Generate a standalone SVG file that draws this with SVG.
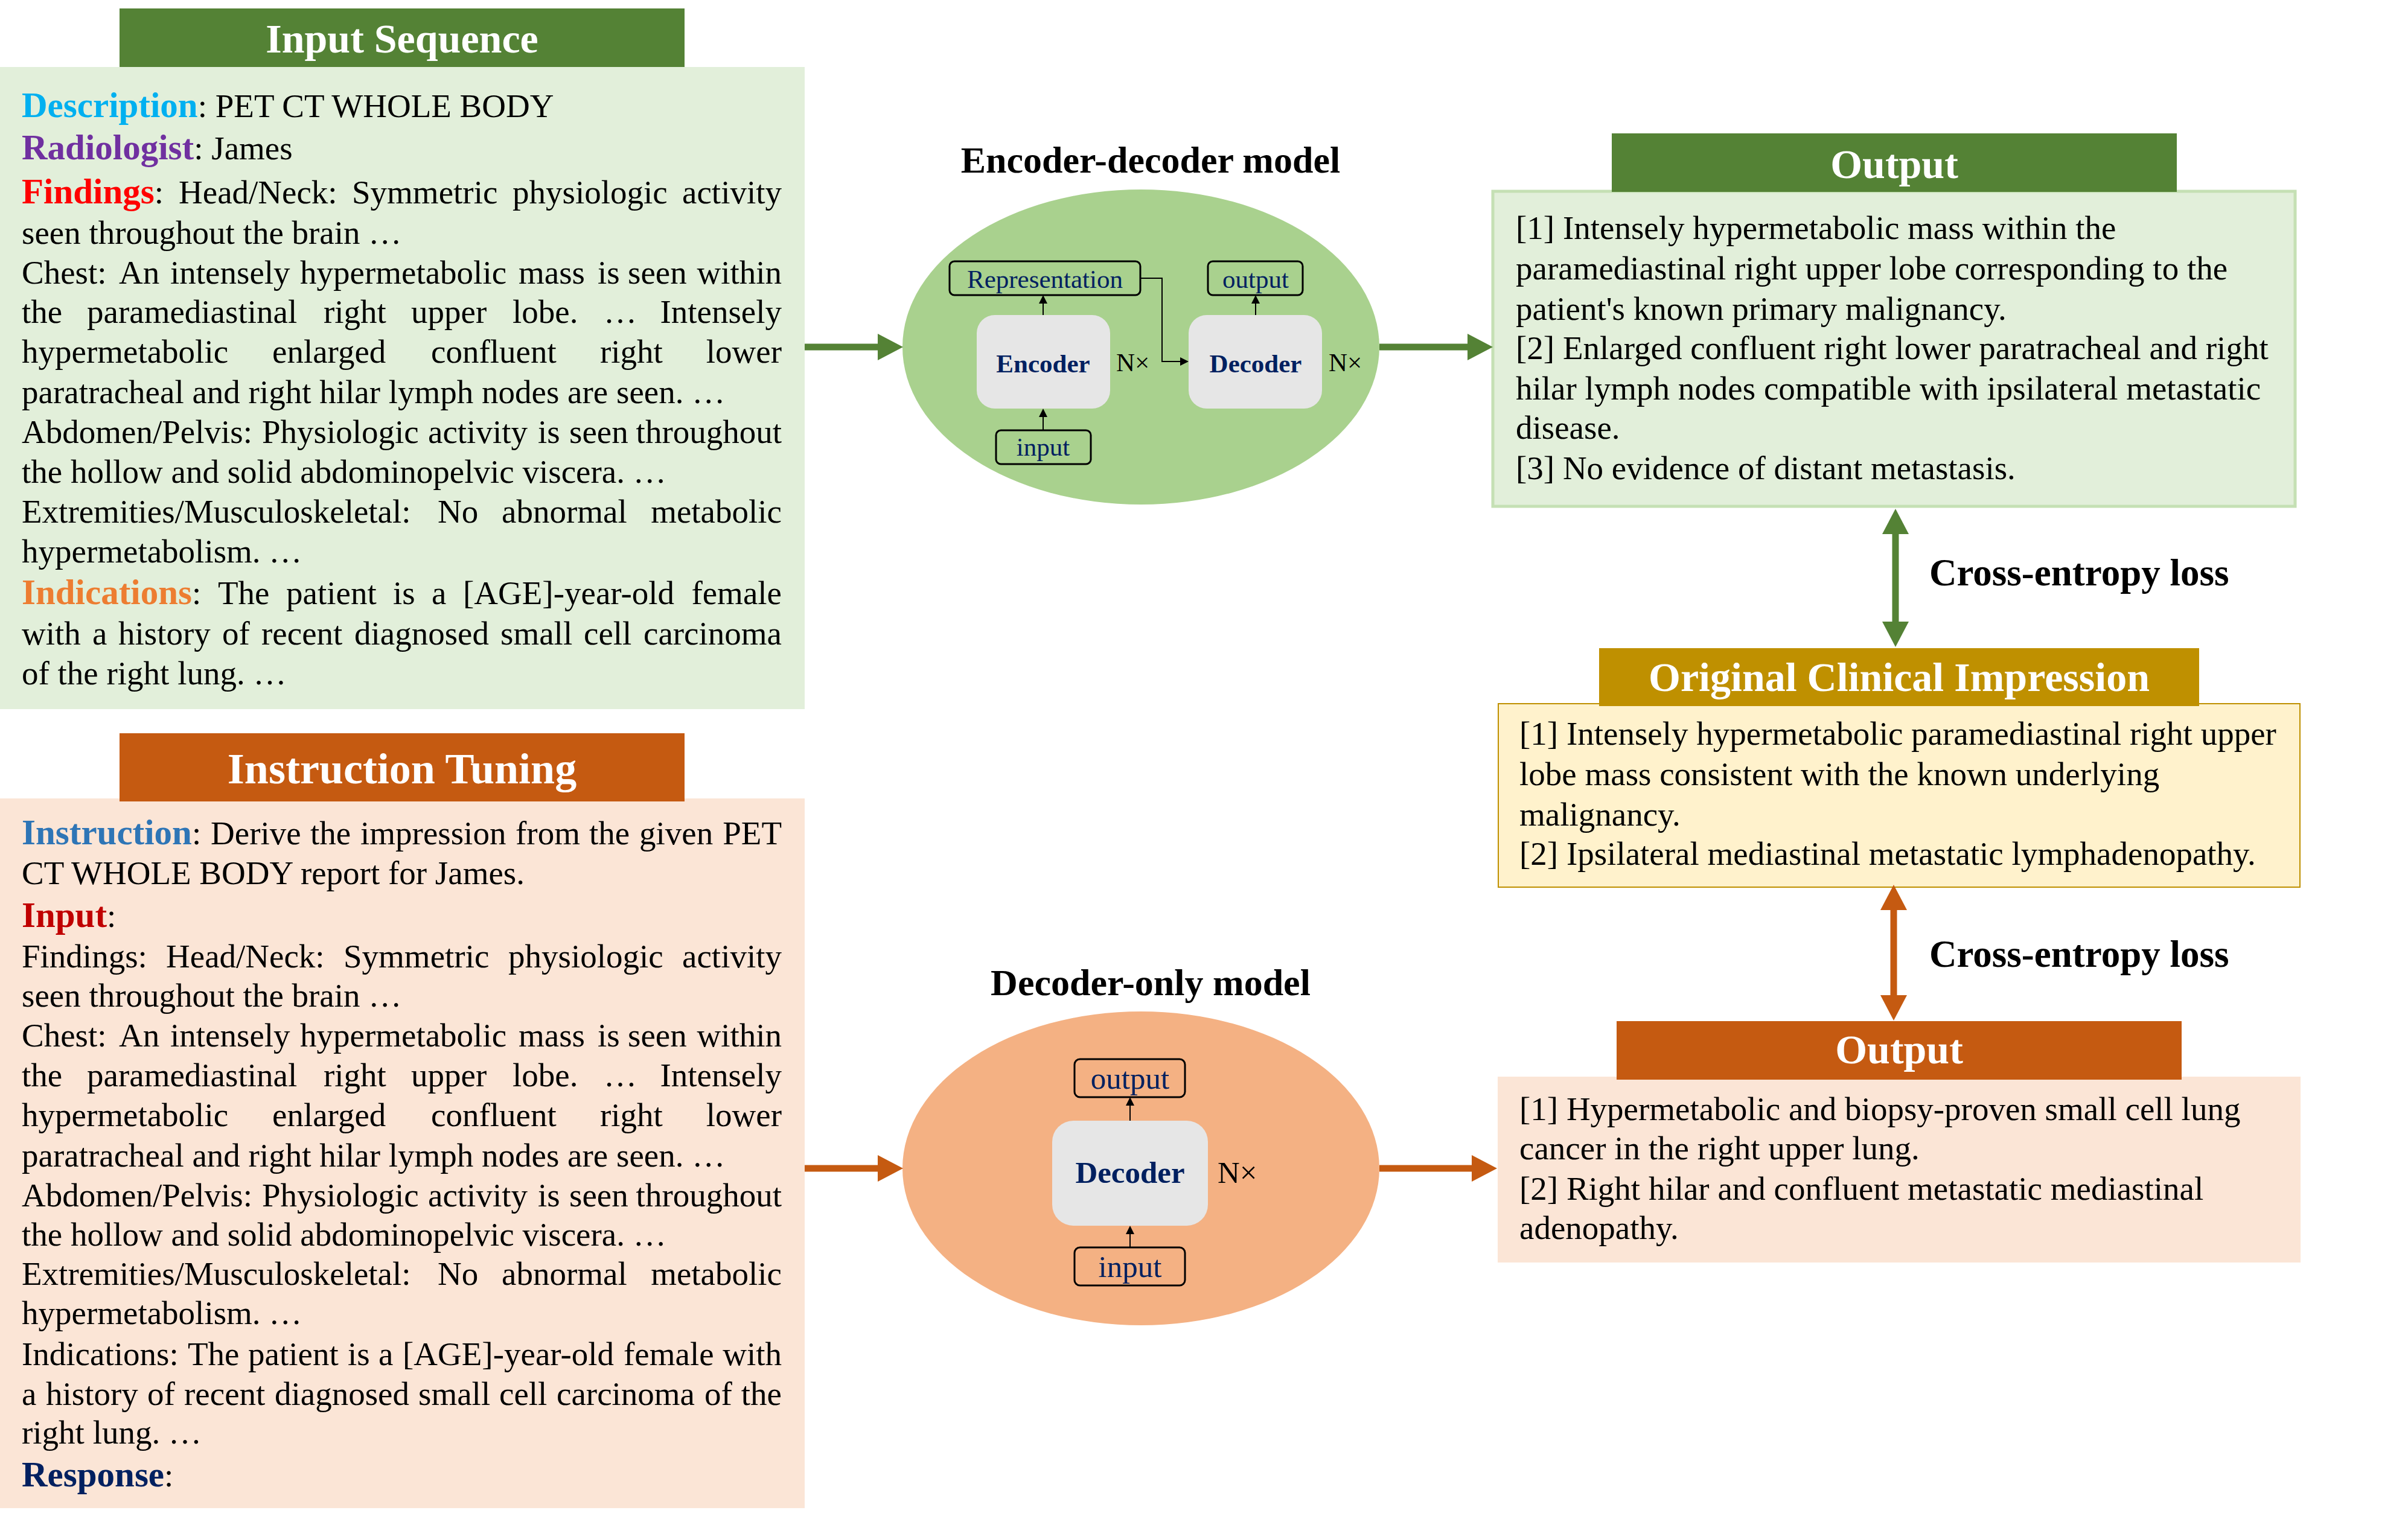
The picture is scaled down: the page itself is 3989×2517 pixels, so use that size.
<svg xmlns="http://www.w3.org/2000/svg" width="3989" height="2517" viewBox="0 0 3989 2517">
<style>
.t{font-family:"Liberation Serif","Times New Roman",serif;font-size:55px;fill:#000}
.b{font-weight:bold}
.k{font-weight:bold;font-size:59px}
.hd{font-family:"Liberation Serif","Times New Roman",serif;font-weight:bold;font-size:68px;fill:#fff;text-anchor:middle}
.ti{font-family:"Liberation Serif","Times New Roman",serif;font-weight:bold;font-size:62px;fill:#000}
.lb{font-family:"Liberation Serif","Times New Roman",serif;fill:#002060;text-anchor:middle}
.nx{font-family:"Liberation Serif","Times New Roman",serif;fill:#000}
.sb{fill:none;stroke:#000;stroke-width:3}
.blk{fill:#e6e6e6}
.e{text-anchor:end}
</style>
<defs>
<marker id="ag" markerUnits="userSpaceOnUse" markerWidth="42" markerHeight="44" refX="0" refY="22" orient="auto-start-reverse" viewBox="0 0 42 44"><path d="M0,0 L42,22 L0,44 z" fill="#548235"/></marker>
<marker id="ao" markerUnits="userSpaceOnUse" markerWidth="42" markerHeight="44" refX="0" refY="22" orient="auto-start-reverse" viewBox="0 0 42 44"><path d="M0,0 L42,22 L0,44 z" fill="#c55a11"/></marker>
<marker id="ak" markerUnits="userSpaceOnUse" markerWidth="14" markerHeight="14" refX="0" refY="7" orient="auto" viewBox="0 0 14 14"><path d="M0,0 L14,7 L0,14 z" fill="#000"/></marker>
</defs>
<rect width="3989" height="2517" fill="#fff"/>

<g id="input-sequence">
<rect x="0" y="111" width="1333" height="1064" fill="#e2efda"/>
<rect x="198" y="14" width="936" height="97" fill="#548235"/>
<text class="hd" x="666" y="87">Input Sequence</text>
<text class="t" y="194"><tspan x="36" class="k" fill="#00b0f0">Description</tspan>: PET CT WHOLE BODY</text>
<text class="t" y="264"><tspan x="36" class="k" fill="#7030a0">Radiologist</tspan>: James</text>
<text class="t" y="337"><tspan x="36" class="k" fill="#ff0000">Findings</tspan>:<tspan x="296">Head/Neck:</tspan><tspan x="583">Symmetric</tspan><tspan x="849">physiologic</tspan></text>
<text class="t e" x="1295" y="337">activity</text>
<text class="t" x="36" y="404">seen throughout the brain …</text>
<text class="t" y="470"><tspan x="36">Chest:</tspan><tspan x="197">An</tspan><tspan x="282">intensely</tspan><tspan x="497">hypermetabolic</tspan><tspan x="859">mass</tspan><tspan x="990">is</tspan><tspan x="1040">seen</tspan></text>
<text class="t e" x="1295" y="470">within</text>
<text class="t" y="535"><tspan x="36">the</tspan><tspan x="144">paramediastinal</tspan><tspan x="536">right</tspan><tspan x="681">upper</tspan><tspan x="849">lobe.</tspan><tspan x="1000">…</tspan></text>
<text class="t e" x="1295" y="535">Intensely</text>
<text class="t" y="601"><tspan x="36">hypermetabolic</tspan><tspan x="451">enlarged</tspan><tspan x="714">confluent</tspan><tspan x="994">right</tspan></text>
<text class="t e" x="1295" y="601">lower</text>
<text class="t" x="36" y="668">paratracheal and right hilar lymph nodes are seen. …</text>
<text class="t" y="734"><tspan x="36">Abdomen/Pelvis:</tspan><tspan x="434">Physiologic</tspan><tspan x="709">activity</tspan><tspan x="891">is</tspan><tspan x="943">seen</tspan></text>
<text class="t e" x="1295" y="734">throughout</text>
<text class="t" x="36" y="800">the hollow and solid abdominopelvic viscera. …</text>
<text class="t" y="866"><tspan x="36">Extremities/Musculoskeletal:</tspan><tspan x="725">No</tspan><tspan x="831">abnormal</tspan></text>
<text class="t e" x="1295" y="866">metabolic</text>
<text class="t" x="36" y="932">hypermetabolism. …</text>
<text class="t" y="1001"><tspan x="36" class="k" fill="#ed7d31">Indications</tspan>:<tspan x="361">The</tspan><tspan x="474">patient</tspan><tspan x="651">is</tspan><tspan x="715">a</tspan><tspan x="767">[AGE]-year-old</tspan></text>
<text class="t e" x="1295" y="1001">female</text>
<text class="t" y="1068"><tspan x="36">with</tspan><tspan x="153">a</tspan><tspan x="196">history</tspan><tspan x="368">of</tspan><tspan x="433">recent</tspan><tspan x="587">diagnosed</tspan><tspan x="829">small</tspan><tspan x="967">cell</tspan></text>
<text class="t e" x="1295" y="1068">carcinoma</text>
<text class="t" x="36" y="1134">of the right lung. …</text>
</g>

<g id="instruction-tuning">
<rect x="0" y="1323" width="1333" height="1176" fill="#fbe5d6"/>
<rect x="198" y="1215" width="936" height="113" fill="#c55a11"/>
<text class="hd" x="666" y="1298" style="font-size:72px">Instruction Tuning</text>
<text class="t" y="1399"><tspan x="36" class="k" fill="#2e75b6">Instruction</tspan>:<tspan x="349">Derive</tspan><tspan x="514">the</tspan><tspan x="597">impression</tspan><tspan x="854">from</tspan><tspan x="976">the</tspan><tspan x="1059">given</tspan></text>
<text class="t e" x="1295" y="1399">PET</text>
<text class="t" x="36" y="1465">CT WHOLE BODY report for James.</text>
<text class="t" y="1536"><tspan x="36" class="k" fill="#c00000">Input</tspan>:</text>
<text class="t" y="1603"><tspan x="36">Findings:</tspan><tspan x="275">Head/Neck:</tspan><tspan x="569">Symmetric</tspan><tspan x="842">physiologic</tspan></text>
<text class="t e" x="1295" y="1603">activity</text>
<text class="t" x="36" y="1668">seen throughout the brain …</text>
<text class="t" y="1734"><tspan x="36">Chest:</tspan><tspan x="197">An</tspan><tspan x="282">intensely</tspan><tspan x="497">hypermetabolic</tspan><tspan x="859">mass</tspan><tspan x="990">is</tspan><tspan x="1040">seen</tspan></text>
<text class="t e" x="1295" y="1734">within</text>
<text class="t" y="1800"><tspan x="36">the</tspan><tspan x="144">paramediastinal</tspan><tspan x="536">right</tspan><tspan x="681">upper</tspan><tspan x="849">lobe.</tspan><tspan x="1000">…</tspan></text>
<text class="t e" x="1295" y="1800">Intensely</text>
<text class="t" y="1866"><tspan x="36">hypermetabolic</tspan><tspan x="451">enlarged</tspan><tspan x="714">confluent</tspan><tspan x="994">right</tspan></text>
<text class="t e" x="1295" y="1866">lower</text>
<text class="t" x="36" y="1933">paratracheal and right hilar lymph nodes are seen. …</text>
<text class="t" y="1999"><tspan x="36">Abdomen/Pelvis:</tspan><tspan x="434">Physiologic</tspan><tspan x="709">activity</tspan><tspan x="891">is</tspan><tspan x="943">seen</tspan></text>
<text class="t e" x="1295" y="1999">throughout</text>
<text class="t" x="36" y="2064">the hollow and solid abdominopelvic viscera. …</text>
<text class="t" y="2129"><tspan x="36">Extremities/Musculoskeletal:</tspan><tspan x="725">No</tspan><tspan x="831">abnormal</tspan></text>
<text class="t e" x="1295" y="2129">metabolic</text>
<text class="t" x="36" y="2194">hypermetabolism. …</text>
<text class="t" y="2262"><tspan x="36">Indications:</tspan><tspan x="311">The</tspan><tspan x="411">patient</tspan><tspan x="576">is</tspan><tspan x="627">a</tspan><tspan x="667">[AGE]-year-old</tspan><tspan x="1033">female</tspan></text>
<text class="t e" x="1295" y="2262">with</text>
<text class="t" y="2328"><tspan x="36">a</tspan><tspan x="76">history</tspan><tspan x="244">of</tspan><tspan x="305">recent</tspan><tspan x="455">diagnosed</tspan><tspan x="693">small</tspan><tspan x="827">cell</tspan><tspan x="922">carcinoma</tspan><tspan x="1167">of</tspan></text>
<text class="t e" x="1295" y="2328">the</text>
<text class="t" x="36" y="2392">right lung. …</text>
<text class="t" y="2463"><tspan x="36" class="k" fill="#002060">Response</tspan>:</text>
</g>

<g id="encoder-decoder-model">
<text class="ti" x="1906" y="286" text-anchor="middle">Encoder-decoder model</text>
<ellipse cx="1890" cy="575" rx="395" ry="261" fill="#a9d18e"/>
<rect class="sb" x="1573" y="433" width="316" height="56" rx="8"/>
<text class="lb" x="1731" y="477" font-size="43">Representation</text>
<rect class="sb" x="2001" y="433" width="157" height="56" rx="8"/>
<text class="lb" x="2080" y="477" font-size="43">output</text>
<rect class="sb" x="1650" y="713" width="157" height="56" rx="8"/>
<text class="lb" x="1728" y="755" font-size="43">input</text>
<rect class="blk" x="1618" y="522" width="221" height="155" rx="30"/>
<text class="lb b" x="1728" y="617" font-size="43">Encoder</text>
<text class="nx" x="1849" y="615" font-size="43">N×</text>
<rect class="blk" x="1969" y="522" width="221" height="155" rx="30"/>
<text class="lb b" x="2080" y="617" font-size="43">Decoder</text>
<text class="nx" x="2201" y="615" font-size="43">N×</text>
</g>

<g id="decoder-only-model">
<text class="ti" x="1906" y="1649" text-anchor="middle">Decoder-only model</text>
<ellipse cx="1890" cy="1936" rx="395" ry="260" fill="#f4b183"/>
<rect class="sb" x="1780" y="1755" width="183" height="63" rx="9"/>
<text class="lb" x="1872" y="1804" font-size="51">output</text>
<rect class="sb" x="1780" y="2067" width="183" height="63" rx="9"/>
<text class="lb" x="1872" y="2116" font-size="51">input</text>
<rect class="blk" x="1743" y="1857" width="258" height="174" rx="35"/>
<text class="lb b" x="1872" y="1960" font-size="51">Decoder</text>
<text class="nx" x="2017" y="1960" font-size="51">N×</text>
</g>

<g id="output-encoder">
<rect x="2473" y="317" width="1329" height="522" fill="#e2efda" stroke="#c5e0b4" stroke-width="5"/>
<rect x="2670" y="221" width="936" height="97" fill="#548235"/>
<text class="hd" x="3138" y="295">Output</text>
<text class="t" x="2511" y="396">[1] Intensely hypermetabolic mass within the</text>
<text class="t" x="2511" y="463">paramediastinal right upper lobe corresponding to the</text>
<text class="t" x="2511" y="530">patient's known primary malignancy.</text>
<text class="t" x="2511" y="595">[2] Enlarged confluent right lower paratracheal and right</text>
<text class="t" x="2511" y="662">hilar lymph nodes compatible with ipsilateral metastatic</text>
<text class="t" x="2511" y="727">disease.</text>
<text class="t" x="2511" y="794">[3] No evidence of distant metastasis.</text>
</g>

<g id="original-clinical-impression">
<rect x="2482" y="1166" width="1328" height="304" fill="#fff2cc" stroke="#bf9000" stroke-width="2"/>
<rect x="2649" y="1074" width="994" height="96" fill="#bf9000"/>
<text class="hd" x="3146" y="1145">Original Clinical Impression</text>
<text class="t" x="2517" y="1234">[1] Intensely hypermetabolic paramediastinal right upper</text>
<text class="t" x="2517" y="1301">lobe mass consistent with the known underlying</text>
<text class="t" x="2517" y="1368">malignancy.</text>
<text class="t" x="2517" y="1433">[2] Ipsilateral mediastinal metastatic lymphadenopathy.</text>
</g>

<g id="output-decoder">
<rect x="2481" y="1784" width="1330" height="308" fill="#fbe5d6"/>
<rect x="2678" y="1692" width="936" height="97" fill="#c55a11"/>
<text class="hd" x="3146" y="1762">Output</text>
<text class="t" x="2517" y="1856">[1] Hypermetabolic and biopsy-proven small cell lung</text>
<text class="t" x="2517" y="1921">cancer in the right upper lung.</text>
<text class="t" x="2517" y="1988">[2] Right hilar and confluent metastatic mediastinal</text>
<text class="t" x="2517" y="2053">adenopathy.</text>
</g>

<g id="loss-labels">
<text class="ti" x="3196" y="970" style="font-size:63px">Cross-entropy loss</text>
<text class="ti" x="3196" y="1602" style="font-size:63px">Cross-entropy loss</text>
</g>

<g id="connectors" fill="none">
<line x1="1333" y1="575" x2="1454" y2="575" stroke="#548235" stroke-width="11" marker-end="url(#ag)"/>
<line x1="2285" y1="575" x2="2431" y2="575" stroke="#548235" stroke-width="11" marker-end="url(#ag)"/>
<line x1="1333" y1="1936" x2="1454" y2="1936" stroke="#c55a11" stroke-width="11" marker-end="url(#ao)"/>
<line x1="2285" y1="1936" x2="2438" y2="1936" stroke="#c55a11" stroke-width="11" marker-end="url(#ao)"/>
<line x1="3140" y1="885" x2="3140" y2="1030" stroke="#548235" stroke-width="11" marker-start="url(#ag)" marker-end="url(#ag)"/>
<line x1="3137" y1="1508" x2="3137" y2="1649" stroke="#c55a11" stroke-width="11" marker-start="url(#ao)" marker-end="url(#ao)"/>
<line x1="1728" y1="522" x2="1728" y2="503" stroke="#000" stroke-width="2" marker-end="url(#ak)"/>
<line x1="1728" y1="713" x2="1728" y2="691" stroke="#000" stroke-width="2" marker-end="url(#ak)"/>
<path d="M1889,461 H1925 V599 H1955" stroke="#000" stroke-width="2" marker-end="url(#ak)"/>
<line x1="2080" y1="522" x2="2080" y2="503" stroke="#000" stroke-width="2" marker-end="url(#ak)"/>
<line x1="1872" y1="1857" x2="1872" y2="1832" stroke="#000" stroke-width="2" marker-end="url(#ak)"/>
<line x1="1872" y1="2067" x2="1872" y2="2045" stroke="#000" stroke-width="2" marker-end="url(#ak)"/>
</g>
</svg>
